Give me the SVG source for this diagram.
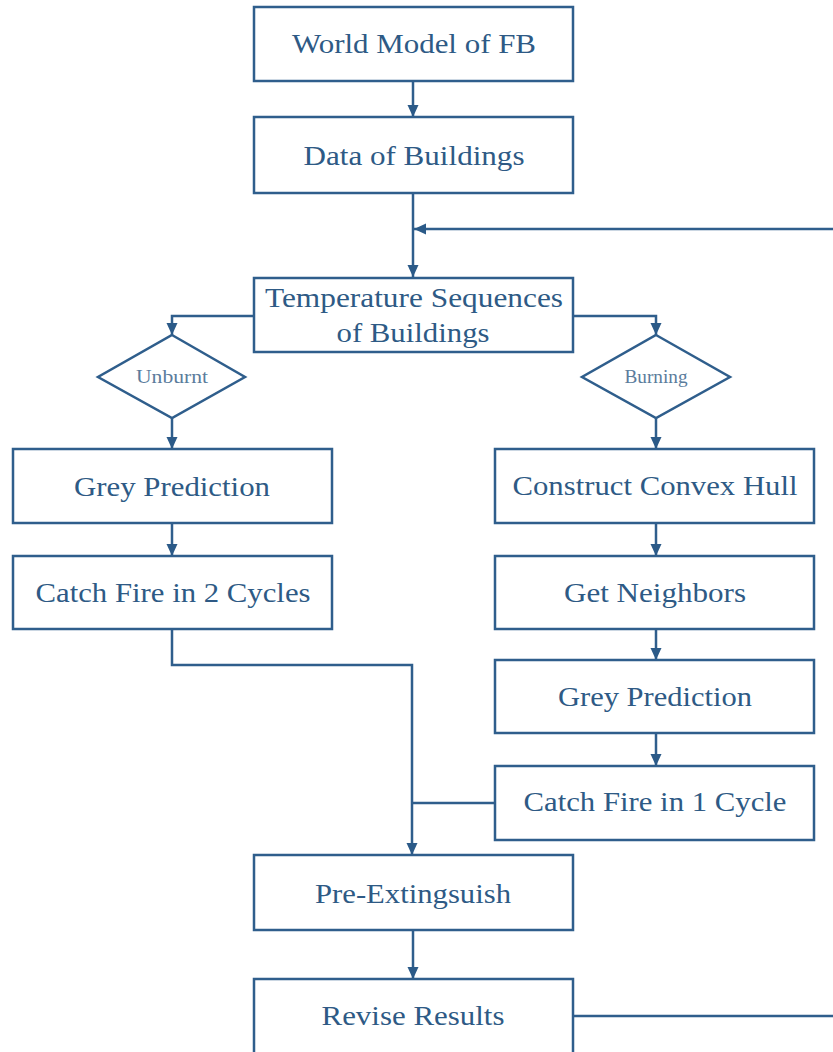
<svg xmlns="http://www.w3.org/2000/svg" width="833" height="1052" viewBox="0 0 833 1052">
<defs>
<marker id="arr" markerUnits="userSpaceOnUse" markerWidth="12" markerHeight="12" viewBox="0 0 12 12" refX="12" refY="6" orient="auto">
<path d="M0,0.5 L12,6 L0,11.5 Z" fill="#2b5a88"/>
</marker>
<style>
.box{fill:#ffffff;stroke:#2f5e8c;stroke-width:2.5}
.t{font-family:"Liberation Serif","Times New Roman",serif;font-size:28px;fill:#2e5a85;text-anchor:middle}
.s{font-family:"Liberation Serif","Times New Roman",serif;font-size:19px;fill:#5b7c9c;text-anchor:middle}
.c{fill:none;stroke:#2f5e8c;stroke-width:2.5}
</style>
</defs>
<rect width="833" height="1052" fill="#ffffff"/>
<g id="connectors">
<line class="c" x1="413" y1="81" x2="413" y2="117" marker-end="url(#arr)"/>
<line class="c" x1="413" y1="193" x2="413" y2="277" marker-end="url(#arr)"/>
<line class="c" x1="833" y1="229" x2="414" y2="229" marker-end="url(#arr)"/>
<polyline class="c" points="254,316 172,316 172,335" marker-end="url(#arr)"/>
<polyline class="c" points="573,316 656,316 656,335" marker-end="url(#arr)"/>
<line class="c" x1="172" y1="418" x2="172" y2="449" marker-end="url(#arr)"/>
<line class="c" x1="656" y1="418" x2="656" y2="449" marker-end="url(#arr)"/>
<line class="c" x1="172" y1="523" x2="172" y2="556" marker-end="url(#arr)"/>
<line class="c" x1="656" y1="523" x2="656" y2="556" marker-end="url(#arr)"/>
<line class="c" x1="656" y1="629" x2="656" y2="660" marker-end="url(#arr)"/>
<line class="c" x1="656" y1="733" x2="656" y2="766" marker-end="url(#arr)"/>
<polyline class="c" points="172,629 172,665 412,665 412,855" marker-end="url(#arr)"/>
<line class="c" x1="495" y1="803" x2="412" y2="803"/>
<line class="c" x1="413" y1="930" x2="413" y2="979" marker-end="url(#arr)"/>
<line class="c" x1="573" y1="1016" x2="833" y2="1016"/>
</g>
<g id="world-model">
<rect class="box" x="254" y="7" width="319" height="74"/>
<text class="t" x="414" y="53" textLength="244" lengthAdjust="spacingAndGlyphs">World Model of FB</text>
</g>
<g id="data-buildings">
<rect class="box" x="254" y="117" width="319" height="76"/>
<text class="t" x="414" y="165" textLength="221" lengthAdjust="spacingAndGlyphs">Data of Buildings</text>
</g>
<g id="temperature">
<rect class="box" x="254" y="278" width="319" height="74"/>
<text class="t" x="414" y="307" textLength="298" lengthAdjust="spacingAndGlyphs">Temperature Sequences</text>
<text class="t" x="413" y="342" textLength="153" lengthAdjust="spacingAndGlyphs">of Buildings</text>
</g>
<g id="unburnt">
<polygon class="box" points="172,335 245,377 172,418 98,377"/>
<text class="s" x="172" y="383" textLength="72" lengthAdjust="spacingAndGlyphs">Unburnt</text>
</g>
<g id="burning">
<polygon class="box" points="656,335 730,377 656,418 582,377"/>
<text class="s" x="656" y="383" textLength="63" lengthAdjust="spacingAndGlyphs">Burning</text>
</g>
<g id="grey-left">
<rect class="box" x="13" y="449" width="319" height="74"/>
<text class="t" x="172" y="496" textLength="196" lengthAdjust="spacingAndGlyphs">Grey Prediction</text>
</g>
<g id="catch2">
<rect class="box" x="13" y="556" width="319" height="73"/>
<text class="t" x="173" y="602" textLength="275" lengthAdjust="spacingAndGlyphs">Catch Fire in 2 Cycles</text>
</g>
<g id="convex-hull">
<rect class="box" x="495" y="449" width="319" height="74"/>
<text class="t" x="655" y="495" textLength="285" lengthAdjust="spacingAndGlyphs">Construct Convex Hull</text>
</g>
<g id="neighbors">
<rect class="box" x="495" y="556" width="319" height="73"/>
<text class="t" x="655" y="602" textLength="182" lengthAdjust="spacingAndGlyphs">Get Neighbors</text>
</g>
<g id="grey-right">
<rect class="box" x="495" y="660" width="319" height="73"/>
<text class="t" x="655" y="706" textLength="194" lengthAdjust="spacingAndGlyphs">Grey Prediction</text>
</g>
<g id="catch1">
<rect class="box" x="495" y="766" width="319" height="74"/>
<text class="t" x="655" y="811" textLength="263" lengthAdjust="spacingAndGlyphs">Catch Fire in 1 Cycle</text>
</g>
<g id="pre-extinguish">
<rect class="box" x="254" y="855" width="319" height="75"/>
<text class="t" x="413" y="903" textLength="196" lengthAdjust="spacingAndGlyphs">Pre-Extingsuish</text>
</g>
<g id="revise">
<rect class="box" x="254" y="979" width="319" height="80"/>
<text class="t" x="413" y="1025" textLength="183" lengthAdjust="spacingAndGlyphs">Revise Results</text>
</g>
</svg>
